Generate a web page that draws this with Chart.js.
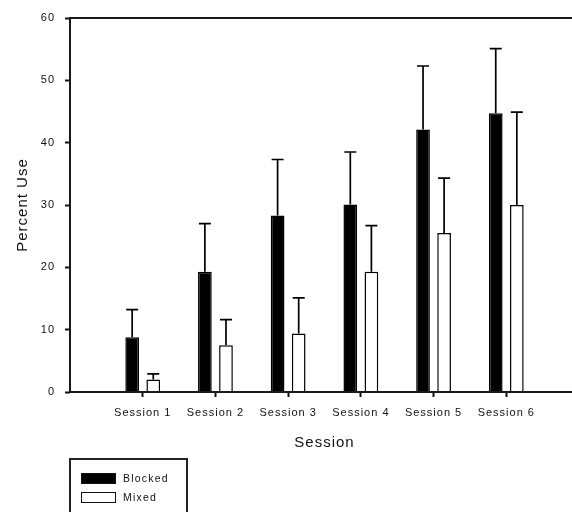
<!DOCTYPE html>
<html lang="en">
<head>
<meta charset="UTF-8">
<title>Percent Use by Session</title>
<script src="https://cdn.jsdelivr.net/npm/chart.js@4/dist/chart.umd.min.js"></script>
<style>
  body { margin: 0; overflow: hidden; background: #fff; }
  #wrap { position: relative; width: 590px; height: 512px; }
  #legend {
    position: absolute; left: 69px; top: 458px; width: 119px; height: 70px;
    border: 2px solid #222; box-sizing: border-box;
    font: 10.5px "Liberation Sans", Arial, sans-serif; letter-spacing: 1.2px; color: #111;
  }
  .item { position: absolute; left: 10px; height: 11px; line-height: 11px; }
  .sw { position: absolute; left: 0; top: 0; width: 35px; height: 11px; box-sizing: border-box; border: 1.5px solid #111; }
  .lbl { position: absolute; left: 42px; top: 0; white-space: nowrap; }
</style>
</head>
<body>
<div id="wrap">
  <canvas id="chart" width="590" height="512"></canvas>
  <div id="legend"></div>
</div>

<script>
// values
const sessions = ['Session 1', 'Session 2', 'Session 3', 'Session 4', 'Session 5', 'Session 6']
const blocked    = [8.8, 19.3, 28.3, 30.1, 42.1, 44.7]
const blockedErr = [4.4, 7.7, 9.0, 8.4, 10.2, 10.4]
const mixed      = [2.0, 7.5, 9.4, 19.3, 25.5, 30.0]
const mixedErr   = [0.9, 4.1, 5.7, 7.4, 8.8, 14.9]
const yTicks = [0, 10, 20, 30, 40, 50, 60]

// x axis runs 0..7 with sessions at 1..6, so pad both ends with blanks
const labels = [''].concat(sessions, [''])
const pad = arr => [null].concat(arr, [null])

const fontFam = '"Liberation Sans", Arial, sans-serif'
const ink = '#111'

const series = [
  { label: 'Blocked', data: blocked, err: blockedErr, fill: '#000' },
  { label: 'Mixed', data: mixed, err: mixedErr, fill: '#fff' }
]

// upper error bars + closed frame around plot
const extras = {
  id: 'extras',
  beforeUpdate(chart) {
    chart.ctx.letterSpacing = '1px'
  },
  afterDatasetsDraw(chart) {
    const ctx = chart.ctx
    const y = chart.scales.y
    ctx.save()
    ctx.strokeStyle = '#000'
    ctx.lineWidth = 1.7
    series.forEach((s, i) => {
      chart.getDatasetMeta(i).data.forEach((bar, j) => {
        const v = chart.data.datasets[i].data[j]
        if (v == null) return
        const top = y.getPixelForValue(v + s.err[j - 1])
        ctx.beginPath()
        ctx.moveTo(bar.x, bar.y)
        ctx.lineTo(bar.x, top)
        ctx.moveTo(bar.x - 6, top)
        ctx.lineTo(bar.x + 6, top)
        ctx.stroke()
      })
    })
    const a = chart.chartArea
    ctx.strokeStyle = '#1a1a1a'
    ctx.lineWidth = 2
    ctx.strokeRect(a.left, a.top, a.right - a.left, a.bottom - a.top)
    ctx.restore()
  }
}

new Chart(document.getElementById('chart'), {
  type: 'bar',
  data: {
    labels: labels,
    datasets: series.map(s => ({
      label: s.label,
      data: pad(s.data),
      backgroundColor: s.fill,
      borderColor: '#000',
      borderWidth: 1.5,
      borderSkipped: 'bottom',
      categoryPercentage: 0.58,
      barPercentage: 0.65
    }))
  },
  options: {
    responsive: false,
    animation: false,
    events: [],
    layout: { padding: { top: 18, right: 11, left: 0, bottom: 0 } },
    plugins: { legend: { display: false }, tooltip: { enabled: false } },
    scales: {
      x: {
        offset: false,
        grid: {
          offset: false,
          drawOnChartArea: false,
          tickLength: 5,
          tickWidth: 2,
          tickColor: c => (c.index > 0 && c.index <= sessions.length) ? ink : 'rgba(0,0,0,0)'
        },
        border: { display: false },
        ticks: { color: ink, padding: 9, maxRotation: 0, autoSkip: false, font: { family: fontFam, size: 11 } },
        title: { display: true, text: 'Session', color: ink, font: { family: fontFam, size: 15 }, padding: { top: 0, bottom: 60 } },
        afterFit: s => { s.height = 120 }
      },
      y: {
        min: 0,
        max: 60,
        afterBuildTicks: s => { s.ticks = yTicks.map(v => ({ value: v })) },
        grid: { drawOnChartArea: false, tickLength: 5, tickWidth: 2, tickColor: ink },
        border: { display: false },
        ticks: { color: ink, padding: 10, font: { family: fontFam, size: 11 } },
        title: { display: true, text: 'Percent Use', color: ink, font: { family: fontFam, size: 15 }, padding: { top: 14, bottom: 0 } },
        afterFit: s => { s.width = 70 }
      }
    }
  },
  plugins: [extras]
})

// legend box
const legend = document.getElementById('legend')
series.forEach((s, i) => {
  const item = document.createElement('div')
  item.className = 'item'
  item.style.top = (13 + i * 19) + 'px'
  item.innerHTML = '<span class="sw" style="background:' + s.fill + '"></span><span class="lbl">' + s.label + '</span>'
  legend.appendChild(item)
})
</script>
</body>
</html>
